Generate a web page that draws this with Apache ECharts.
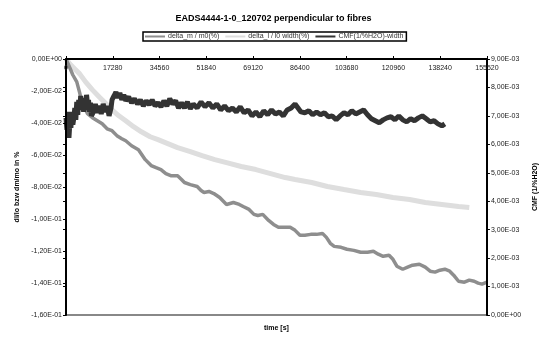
<!DOCTYPE html>
<html>
<head>
<meta charset="utf-8">
<script src="https://cdn.jsdelivr.net/npm/echarts@6/dist/echarts.min.js"></script>
<style>
  html, body { margin: 0; padding: 0; background: #fff; }
  #chart { width: 547px; height: 337px; }
</style>
</head>
<body>
<div id="chart"></div>
<script>
// Relative mass change delta_m / m0 (%) over time [s]
const massTime = [0, 362, 1447, 2532, 3978, 5063, 5787, 6872, 7957, 9765, 11573, 13382, 15190, 16998,
  18807, 20615, 22062, 24232, 26764, 29295, 31465, 33274, 35082, 36890, 38698, 41230, 42677, 43762,
  45932, 48463, 49910, 50995, 52803, 54612, 56782, 59313, 61845, 64015, 65461, 67631, 69439, 70886,
  72695, 74865, 76673, 78481, 81013, 82821, 84630, 86438, 88246, 90416, 92586, 94757, 96203, 97650,
  99097, 101628, 103798, 106330, 108861, 111393, 113563, 115371, 117180, 119350, 120796, 122243,
  124413, 126222, 128030, 130562, 132732, 134540, 136348, 138157, 139965, 141773, 143220, 145028,
  147198, 149006, 150815, 152262, 153708, 155520];
const massValues = [0, -0.0012, -0.0056, -0.0100, -0.0143, -0.0212, -0.0268, -0.0305, -0.0342, -0.0367,
  -0.0386, -0.0405, -0.0436, -0.0448, -0.0479, -0.0498, -0.0511, -0.0542, -0.0567, -0.0629, -0.0666,
  -0.0679, -0.0691, -0.0716, -0.0729, -0.0729, -0.0753, -0.0772, -0.0785, -0.0797, -0.0822, -0.0834,
  -0.0828, -0.0841, -0.0866, -0.0909, -0.0897, -0.0909, -0.0922, -0.0940, -0.0971, -0.0978, -0.0971,
  -0.1009, -0.1034, -0.1052, -0.1052, -0.1052, -0.1071, -0.1102, -0.1102, -0.1096, -0.1096, -0.1090,
  -0.1115, -0.1152, -0.1171, -0.1177, -0.1189, -0.1196, -0.1208, -0.1208, -0.1202, -0.1220, -0.1233,
  -0.1227, -0.1252, -0.1295, -0.1314, -0.1301, -0.1289, -0.1283, -0.1301, -0.1326, -0.1332, -0.1320,
  -0.1314, -0.1326, -0.1351, -0.1389, -0.1395, -0.1382, -0.1389, -0.1401, -0.1407, -0.1395];

// Relative length change delta_l / l0 across the width (%)
const widthTime = [0, 1447, 3255, 5063, 7233, 9765, 12297, 14828, 16998, 19530, 22062, 24955, 27849,
  31104, 33997, 37614, 41230, 45932, 50272, 54973, 59313, 64738, 70163, 75588, 81013, 84630, 90778,
  96565, 102713, 108861, 114648, 120796, 126945, 132732, 138880, 145028, 149006];
const widthValues = [0, -0.0031, -0.0062, -0.0093, -0.0143, -0.0193, -0.0237, -0.0280, -0.0318, -0.0355,
  -0.0386, -0.0423, -0.0455, -0.0486, -0.0504, -0.0529, -0.0554, -0.0579, -0.0604, -0.0629, -0.0648,
  -0.0672, -0.0691, -0.0716, -0.0741, -0.0753, -0.0772, -0.0797, -0.0816, -0.0834, -0.0847, -0.0866,
  -0.0878, -0.0897, -0.0909, -0.0922, -0.0928];

// Coefficient of moisture expansion CMF (1/%H2O), width direction
const cmfTime = [0, 362, 723, 1085, 1447, 1808, 2170, 2532, 2893, 3255, 3617, 3978, 4340, 4702, 5063,
  5425, 5787, 6148, 6510, 6872, 7233, 7595, 7957, 8318, 8680, 9042, 9403, 10127, 10850, 11573, 12297,
  13020, 13743, 14467, 15190, 15913, 16637, 16998, 17722, 18445, 19169, 19892, 20615, 21339, 22062,
  23147, 24232, 25317, 26402, 27487, 28572, 29657, 30742, 31827, 32912, 33997, 35082, 36167, 37252,
  38337, 39422, 40507, 41592, 42677, 43762, 44847, 45932, 47017, 48463, 49910, 51357, 52803, 54250,
  55697, 57144, 58590, 60037, 61484, 62930, 64377, 65824, 67270, 68717, 70164, 71610, 73057, 74504,
  75950, 77397, 78844, 80290, 81737, 83184, 84630, 85715, 86800, 88247, 89694, 91140, 92587, 94034,
  95480, 96927, 98374, 99820, 101267, 102714, 104160, 105607, 107054, 108500, 109947, 111394, 112840,
  114287, 115734, 117180, 118627, 120074, 121520, 122967, 124414, 125860, 127307, 128754, 130200,
  131647, 133094, 134540, 135987, 137434, 138880, 139965];
const cmfValues = [0.00693, 0.00651, 0.00714, 0.00623, 0.00679, 0.00658, 0.00714, 0.00669, 0.00693,
  0.00728, 0.00686, 0.00749, 0.00704, 0.00756, 0.00721, 0.00770, 0.00728, 0.00763, 0.00714, 0.00756,
  0.00721, 0.00774, 0.00739, 0.00756, 0.00714, 0.00746, 0.00700, 0.00714, 0.00742, 0.00711, 0.00735,
  0.00707, 0.00742, 0.00714, 0.00735, 0.00700, 0.00728, 0.00756, 0.00770, 0.00784, 0.00763, 0.00781,
  0.00756, 0.00774, 0.00753, 0.00767, 0.00746, 0.00760, 0.00742, 0.00756, 0.00735, 0.00753, 0.00739,
  0.00756, 0.00735, 0.00746, 0.00732, 0.00753, 0.00735, 0.00760, 0.00742, 0.00753, 0.00728, 0.00746,
  0.00728, 0.00749, 0.00725, 0.00742, 0.00728, 0.00749, 0.00732, 0.00746, 0.00728, 0.00742, 0.00721,
  0.00735, 0.00718, 0.00728, 0.00714, 0.00732, 0.00711, 0.00721, 0.00700, 0.00714, 0.00697, 0.00718,
  0.00704, 0.00721, 0.00707, 0.00714, 0.00700, 0.00721, 0.00728, 0.00742, 0.00728, 0.00714, 0.00711,
  0.00718, 0.00704, 0.00714, 0.00704, 0.00711, 0.00697, 0.00700, 0.00686, 0.00700, 0.00711, 0.00704,
  0.00718, 0.00707, 0.00714, 0.00721, 0.00704, 0.00690, 0.00683, 0.00676, 0.00686, 0.00693, 0.00697,
  0.00686, 0.00700, 0.00686, 0.00679, 0.00690, 0.00683, 0.00693, 0.00700, 0.00690, 0.00679, 0.00683,
  0.00672, 0.00665, 0.00672];

// Axis settings
const timeMax = 155520;
const timeStep = 17280;
const leftMin = -0.16, leftMax = 0, leftStep = 0.02;
const rightMin = 0, rightMax = 0.009, rightStep = 0.001;

const seriesNames = ['delta_m / m0(%)', 'delta_l / l0 width(%)', 'CMF(1/%H2O)-width'];

function zip(xs, ys) { return xs.map((x, i) => [x, ys[i]]); }

// Excel-style scientific label: -2,00E-02
function sci(v) {
  if (Math.abs(v) < 1e-12) v = 0;
  const s = v.toExponential(2);
  const m = s.match(/^(-?)(\d)\.(\d+)e([+-])(\d+)$/);
  if (!m) return s;
  const exp = m[5].padStart(2, '0');
  return m[1] + m[2] + ',' + m[3] + 'E' + m[4] + exp;
}

const FONT = 'Liberation Sans, Arial, sans-serif';
const chart = echarts.init(document.getElementById('chart'), null, { renderer: 'canvas' });

chart.setOption({
  animation: false,
  backgroundColor: '#fff',
  title: {
    text: 'EADS4444-1-0_120702 perpendicular to fibres',
    left: 'center', top: 9,
    textStyle: { fontFamily: FONT, fontSize: 9, fontWeight: 'bold', color: '#000' }
  },
  legend: {
    data: seriesNames,
    left: 143, top: 32,
    padding: [1, 3, 1, 2],
    itemGap: 6,
    itemWidth: 20, itemHeight: 2,
    icon: 'rect',
    borderColor: '#000', borderWidth: 1.5,
    textStyle: { fontFamily: FONT, fontSize: 7, color: '#333', padding: [0, 0, 0, -2] }
  },
  grid: { left: 66, right: 51, top: 59, bottom: 21, containLabel: false },
  xAxis: [{
    type: 'value', position: 'top', z: 10,
    min: 0, max: timeMax, interval: timeStep,
    axisLine: { show: true, onZero: false, lineStyle: { color: '#000', width: 2 } },
    axisTick: { show: true, length: 3, lineStyle: { color: '#000' } },
    axisLabel: {
      inside: true, margin: 6, showMinLabel: true, showMaxLabel: true,
      fontFamily: FONT, fontSize: 7, color: '#222',
      formatter: v => String(Math.round(v))
    },
    splitLine: { show: false }
  }, {
    type: 'value', position: 'bottom',
    min: 0, max: timeMax, interval: timeStep,
    name: 'time [s]', nameLocation: 'middle', nameGap: 10,
    nameTextStyle: { fontFamily: FONT, fontSize: 7, fontWeight: 'bold', color: '#000' },
    axisLine: { show: true, onZero: false, lineStyle: { color: '#888', width: 2 } },
    axisTick: { show: false }, axisLabel: { show: false }, splitLine: { show: false }
  }],
  yAxis: [{
    type: 'value', position: 'left', z: 10,
    min: leftMin, max: leftMax, interval: leftStep,
    name: 'dl/lo bzw dm/mo in %', nameLocation: 'middle', nameGap: 34, nameRotate: 90,
    nameTextStyle: { fontFamily: FONT, fontSize: 7, fontWeight: 'bold', color: '#000' },
    axisLine: { show: true, onZero: false, lineStyle: { color: '#000', width: 2 } },
    axisTick: { show: true, length: 3, lineStyle: { color: '#000' } },
    axisLabel: { margin: 4, fontFamily: FONT, fontSize: 7, color: '#222', formatter: sci },
    splitLine: { show: false }
  }, {
    type: 'value', position: 'right', z: 10,
    min: rightMin, max: rightMax, interval: rightStep,
    name: 'CMF (1/%H2O)', nameLocation: 'middle', nameGap: 38, nameRotate: 90,
    nameTextStyle: { fontFamily: FONT, fontSize: 7, fontWeight: 'bold', color: '#000' },
    axisLine: { show: true, onZero: false, lineStyle: { color: '#000', width: 2 } },
    axisTick: { show: true, length: 3, lineStyle: { color: '#000' } },
    axisLabel: { margin: 4, fontFamily: FONT, fontSize: 7, color: '#222', formatter: sci },
    splitLine: { show: false }
  }, {
    // inner half of the crossing ticks on the right axis
    type: 'value', position: 'right', z: 10,
    min: rightMin, max: rightMax, interval: rightStep,
    axisLine: { show: false },
    axisTick: { show: true, inside: true, length: 3, lineStyle: { color: '#000' } },
    axisLabel: { show: false }, splitLine: { show: false }
  }],
  series: [{
    name: seriesNames[0], type: 'line', xAxisIndex: 0, yAxisIndex: 0,
    data: zip(massTime, massValues), showSymbol: false, symbol: 'none',
    itemStyle: { color: '#8e8e8e' },
    lineStyle: { color: '#8e8e8e', width: 3.5 }, z: 3
  }, {
    name: seriesNames[1], type: 'line', xAxisIndex: 0, yAxisIndex: 0,
    data: zip(widthTime, widthValues), showSymbol: false, symbol: 'none',
    itemStyle: { color: '#dedede' },
    lineStyle: { color: '#dedede', width: 5 }, z: 2
  }, {
    name: seriesNames[2], type: 'line', xAxisIndex: 0, yAxisIndex: 1,
    data: zip(cmfTime, cmfValues), showSymbol: false, symbol: 'none',
    itemStyle: { color: '#333' },
    lineStyle: { color: '#333', width: 5 }, z: 4
  }]
});
</script>
</body>
</html>
